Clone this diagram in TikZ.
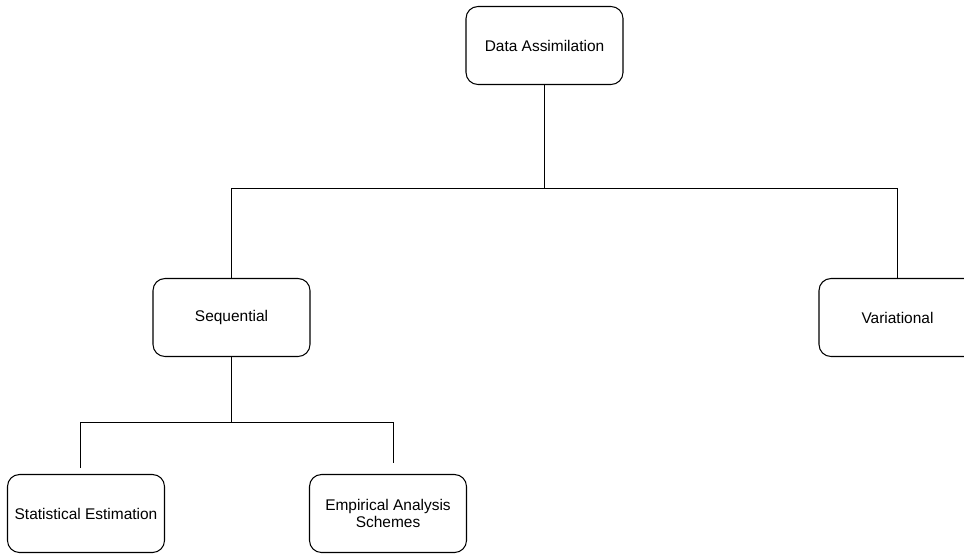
\documentclass[tikz,border=0pt]{standalone}
\usepackage{fontspec}
\setmainfont{Liberation Sans}
\usetikzlibrary{positioning}

\tikzset{
    block/.style={draw, rounded corners=9pt, line width=0.8pt,
        minimum width=117.75pt, minimum height=58.5pt, inner sep=2pt,
        align=center, font=\fontsize{11.6}{12.8}\selectfont},
    link/.style={line width=0.8pt}
}

\begin{document}
\begin{tikzpicture}[x=0.75pt,y=-0.75pt]
    \useasboundingbox (0,0) rectangle (964,554);
    % top level
    \node[block] (assim) at (544.5,45.5) {Data Assimilation};
    \node[block] (seq) at (231.5,317.5) {Sequential};
    \node[block] (var) at (897.5,317.5) {Variational};
    % sequential branch
    \node[block] (stat) at (86,513.5) {Statistical Estimation};
    \node[block] (emp) at (388,513.5) {Empirical Analysis\\Schemes};
    \coordinate (busA) at (544.5,188.5);
    \coordinate (busB) at (231.5,422.5);
    \coordinate (statEnd) at (80.5,468);
    \coordinate (empEnd) at (393.5,463);
    \draw[link] (assim) -- (busA);
    \draw[link] (seq.north) |- (busA) -| (var.north);
    \draw[link] (seq) -- (busB);
    \draw[link] (statEnd) |- (busB) -| (empEnd);
\end{tikzpicture}
\end{document}
